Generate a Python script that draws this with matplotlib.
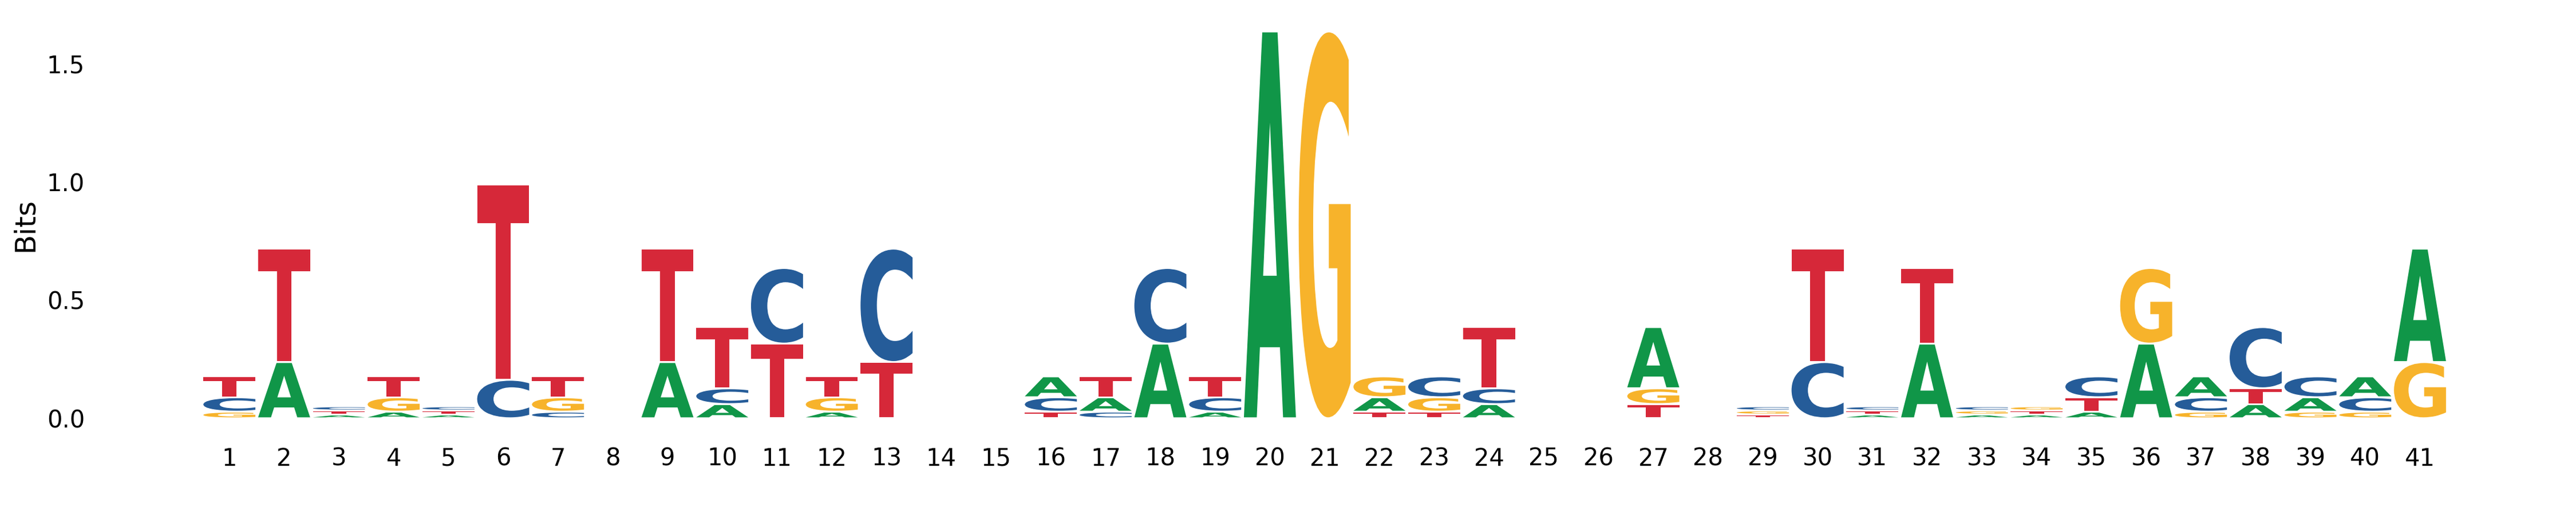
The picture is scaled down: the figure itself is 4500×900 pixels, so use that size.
import numpy as np
import matplotlib
matplotlib.use("Agg")
import matplotlib.pyplot as plt
from matplotlib.textpath import TextPath
from matplotlib.patches import PathPatch
from matplotlib.font_manager import FontProperties
from matplotlib.transforms import Affine2D

# ---------------- data (bits per letter at each position) ----------------
positions = list(range(1, 42))
letters = ["A", "C", "G", "T"]

A_bits = [0, 0.238, 0.016, 0.028, 0.016, 0, 0, 0, 0.238, 0.060,
          0, 0.028, 0, 0, 0, 0.0885, 0.061, 0.316, 0.028, 1.637,
          0, 0.061, 0, 0.060, 0, 0, 0.259, 0, 0, 0,
          0.016, 0.316, 0.016, 0.016, 0.028, 0.316, 0.0885, 0.060, 0.061, 0.0885,
          0.480]
C_bits = [0.061, 0, 0.018, 0, 0.018, 0.163, 0.028, 0, 0, 0.067,
          0.320, 0, 0.480, 0, 0, 0.061, 0.028, 0.320, 0.061, 0,
          0, 0, 0.0885, 0.067, 0, 0, 0, 0, 0.018, 0.238,
          0.018, 0, 0.018, 0, 0.0885, 0, 0.061, 0.259, 0.0885, 0.061,
          0]
G_bits = [0.028, 0, 0, 0.061, 0, 0, 0.061, 0, 0, 0,
          0, 0.061, 0, 0, 0, 0, 0, 0, 0, 0,
          1.637, 0.0885, 0.061, 0, 0, 0, 0.067, 0, 0.017, 0,
          0, 0, 0.017, 0.018, 0, 0.320, 0.028, 0, 0.028, 0.028,
          0.238]
T_bits = [0.0885, 0.480, 0.017, 0.0885, 0.017, 0.826, 0.0885, 0, 0.480, 0.259,
          0.316, 0.0885, 0.238, 0, 0, 0.028, 0.0885, 0, 0.0885, 0,
          0, 0.028, 0.028, 0.259, 0, 0, 0.060, 0, 0.016, 0.480,
          0.017, 0.320, 0, 0.017, 0.061, 0, 0, 0.067, 0, 0,
          0]

yticks = [0.0, 0.5, 1.0, 1.5]
ytick_labels = ["0.0", "0.5", "1.0", "1.5"]
xtick_labels = [str(p) for p in positions]

colors = {"A": "#109648", "C": "#255C99", "G": "#F7B32B", "T": "#D62839"}

# ---------------- figure ----------------
fig = plt.figure(figsize=(15, 3), dpi=300)
ax = fig.add_axes([0.03589, 0.18778, 0.9567, 0.7512])

fp = FontProperties(family="DejaVu Sans", weight="bold")
glyph_width = 0.95
vsep = 0.008

mat = np.array([A_bits, C_bits, G_bits, T_bits]).T
max_h = 0
for i, pos in enumerate(positions):
    vals = mat[i]
    order = np.argsort(vals, kind="stable")
    floor = 0.0
    for k in order:
        h = vals[k]
        if h <= 0:
            continue
        ch = letters[k]
        g_floor = floor + vsep / 2
        g_h = h - vsep
        tp = TextPath((0, 0), ch, size=1, prop=fp)
        bb = tp.get_extents()
        tr = (Affine2D()
              .translate(-bb.x0, -bb.y0)
              .scale(glyph_width / bb.width, g_h / bb.height)
              .translate(pos - glyph_width / 2, g_floor))
        patch = PathPatch(tr.transform_path(tp), facecolor=colors[ch],
                          edgecolor="none", linewidth=0)
        ax.add_patch(patch)
        floor += h
    max_h = max(max_h, floor)

ax.set_xlim(-1.5, 43.5)
ax.set_ylim(0, max_h)
ax.set_xticks(positions)
ax.set_xticklabels(xtick_labels)
ax.set_yticks(yticks)
ax.set_yticklabels(ytick_labels)
ax.tick_params(axis="x", length=0, pad=11.9, labelsize=10)
ax.tick_params(axis="y", length=0, pad=3.2, labelsize=10)
ax.set_ylabel("Bits", fontsize=12, labelpad=3.5)
for s in ax.spines.values():
    s.set_visible(False)

fig.savefig("out.png", dpi=300)
